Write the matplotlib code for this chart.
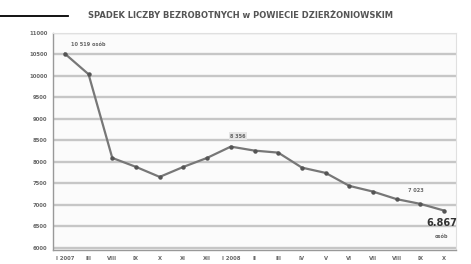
import matplotlib
matplotlib.use("Agg")
import matplotlib.pyplot as plt

# monthly number of unemployed
months = ["I 2007", "III", "VIII", "IX", "X", "XI", "XII", "I 2008", "II",
          "III", "IV", "V", "VI", "VII", "VIII", "IX", "X"]
unemployed = [10519, 10040, 8093, 7884, 7651, 7884, 8093, 8356, 8263,
              8216, 7867, 7744, 7442, 7309, 7133, 7023, 6867]
y_ticks = [6000, 6500, 7000, 7500, 8000, 8500, 9000, 9500, 10000, 10500, 11000]

grey = "#666666"
fig = plt.figure(figsize=(4.71, 2.64), dpi=100)
fig.patch.set_facecolor("white")
ax = fig.add_axes([53 / 471, 1 - 250 / 264, 403 / 471, 217 / 264])
ax.set_facecolor("#fbfbfb")

x = list(range(len(months)))
ax.plot(x, unemployed, color="#777777", lw=1.6, marker="o", ms=2.2,
        mfc="#555555", mec="#555555", zorder=3)

ax.set_xlim(-0.5, len(months) - 0.5)
ax.set_ylim(5950, 11000)
ax.set_yticks(y_ticks)
ax.set_yticklabels([str(v) for v in y_ticks], fontsize=3.8, color=grey,
                   fontweight="bold")
ax.set_xticks(x)
ax.set_xticklabels(months, fontsize=3.8, color=grey, fontweight="bold")
ax.tick_params(length=0, pad=4)
ax.yaxis.grid(True, color="#c6c6c6", lw=1.7)
ax.set_axisbelow(True)
for side in ["left", "bottom"]:
    ax.spines[side].set_color("#999999")
    ax.spines[side].set_linewidth(1.0)
for side in ["top", "right"]:
    ax.spines[side].set_color("#e0e0e0")

# annotations
ax.text(1.0, 10740, f"{unemployed[0]:,}".replace(",", " ") + " osób",
        fontsize=3.6, color=grey, ha="center", va="center", fontweight="bold")
ax.text(7.3, 8600, f"{unemployed[7]:,}".replace(",", " "), fontsize=3.6,
        color=grey, ha="center", va="center", fontweight="bold",
        bbox=dict(boxstyle="square,pad=0.3", fc="#e4e4e4", ec="none"))
ax.text(14.8, 7330, f"{unemployed[15]:,}".replace(",", " "), fontsize=3.6,
        color=grey, ha="center", va="center", fontweight="bold")
ax.text(15.9, 6575, f"{unemployed[16]:,}".replace(",", "."), fontsize=7,
        color="#333333", ha="center", va="center", fontweight="bold")
ax.text(15.9, 6270, "osób", fontsize=3.6, color=grey, ha="center",
        va="center", fontweight="bold")

# header line and title
fig.add_artist(plt.Line2D([0, 68 / 471], [1 - 16 / 264, 1 - 16 / 264],
                          color="black", lw=1.3))
fig.text(240 / 471, 1 - 16 / 264,
         "SPADEK LICZBY BEZROBOTNYCH w POWIECIE DZIERŻONIOWSKIM",
         fontsize=6.0, color="#555555", ha="center", va="center",
         fontweight="bold")

fig.savefig("out.png", dpi=100)
